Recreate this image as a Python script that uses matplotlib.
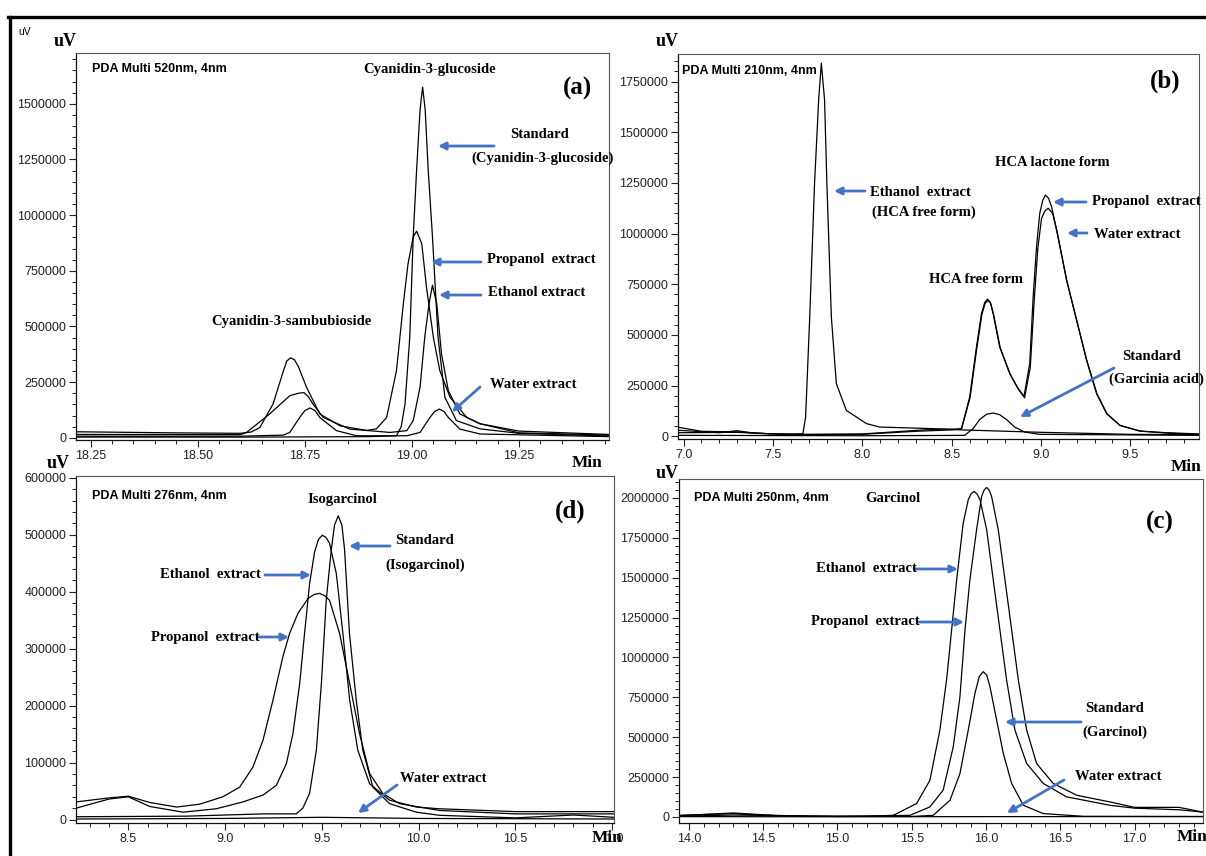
import numpy as np
import matplotlib.pyplot as plt
from matplotlib.ticker import MultipleLocator, FuncFormatter
from matplotlib.lines import Line2D

# ---- chromatogram traces (time in min, signal in thousands of uV) ----

# (a) PDA 520 nm
a_std_t = [18.215, 18.60, 18.90, 18.964, 18.975, 18.984, 18.995, 19.003, 19.011, 19.019, 19.025,
           19.031, 19.038, 19.048, 19.061, 19.077, 19.104, 19.159, 19.25, 19.46]
a_std_v = [3, 3, 5, 9, 50, 152, 452, 902, 1203, 1473, 1575, 1473, 1203, 902, 452, 182, 77, 40, 20, 8]
a_pro_t = [18.215, 18.45, 18.60, 18.625, 18.645, 18.676, 18.700, 18.708, 18.717, 18.726, 18.735,
           18.754, 18.785, 18.832, 18.894, 18.917, 18.941, 18.964, 18.980, 18.991, 19.003, 19.011,
           19.023, 19.034, 19.050, 19.065, 19.089, 19.128, 19.159, 19.25, 19.46]
a_pro_v = [27, 22, 20, 26, 46, 152, 300, 345, 359, 350, 320, 227, 107, 54, 33, 40, 91, 302, 602,
           782, 902, 928, 872, 677, 452, 302, 182, 91, 63, 30, 15]
a_eth_t = [18.215, 18.60, 18.614, 18.668, 18.715, 18.735, 18.748, 18.758, 18.769, 18.793, 18.855,
           18.949, 18.988, 19.003, 19.019, 19.030, 19.040, 19.048, 19.058, 19.069, 19.085, 19.112,
           19.159, 19.25, 19.46]
a_eth_v = [15, 14, 24, 107, 189, 200, 203, 185, 152, 91, 39, 24, 32, 77, 227, 452, 602, 685, 602,
           377, 212, 107, 63, 22, 12]
a_wat_t = [18.215, 18.60, 18.70, 18.715, 18.738, 18.750, 18.762, 18.774, 18.785, 18.824, 18.871,
           18.988, 19.019, 19.042, 19.053, 19.064, 19.075, 19.085, 19.112, 19.159, 19.46]
a_wat_v = [7, 7, 12, 24, 91, 122, 134, 122, 91, 32, 9, 9, 24, 91, 118, 129, 118, 91, 39, 17, 5]

# (b) PDA 210 nm
b_eth_t = [6.969, 7.1, 7.3, 7.5, 7.62, 7.668, 7.683, 7.706, 7.733, 7.756, 7.771, 7.789, 7.802,
           7.827, 7.855, 7.911, 8.023, 8.097, 8.40, 8.55, 9.0, 9.5, 9.884]
b_eth_v = [45, 25, 22, 12, 12, 13, 95, 589, 1248, 1660, 1841, 1660, 1248, 589, 260, 128, 63, 46,
           38, 32, 20, 10, 8]
b_pro_t = [6.969, 7.2, 7.3, 7.4, 7.6, 8.0, 8.3, 8.5, 8.555, 8.601, 8.639, 8.667, 8.685, 8.700,
           8.716, 8.732, 8.769, 8.825, 8.872, 8.905, 8.937, 8.956, 8.975, 8.993, 9.010, 9.025,
           9.042, 9.059, 9.087, 9.143, 9.199, 9.255, 9.311, 9.367, 9.441, 9.553, 9.703, 9.884]
b_pro_v = [30, 18, 28, 15, 10, 10, 25, 32, 38, 194, 441, 606, 660, 677, 662, 606, 441, 310, 236,
           198, 359, 688, 935, 1100, 1165, 1190, 1175, 1133, 1018, 771, 573, 375, 211, 112, 54,
           26, 18, 12]
b_wat_t = [6.969, 7.3, 7.6, 8.0, 8.4, 8.555, 8.603, 8.641, 8.669, 8.687, 8.703, 8.719, 8.735,
           8.772, 8.828, 8.875, 8.908, 8.940, 8.962, 8.982, 9.003, 9.022, 9.040, 9.065, 9.090,
           9.145, 9.201, 9.257, 9.313, 9.369, 9.443, 9.555, 9.703, 9.884]
b_wat_v = [18, 20, 8, 12, 35, 36, 190, 436, 600, 655, 670, 655, 600, 436, 305, 230, 190, 340, 670,
           925, 1075, 1112, 1125, 1100, 1010, 765, 568, 372, 210, 112, 54, 26, 16, 10]
b_std_t = [6.969, 8.0, 8.573, 8.620, 8.657, 8.695, 8.732, 8.769, 8.807, 8.853, 8.909, 8.993, 9.884]
b_std_v = [5, 3, 5, 38, 83, 109, 115, 107, 83, 46, 21, 10, 5]

# (d) PDA 276 nm
d_std_t = [8.230, 8.8, 9.196, 9.368, 9.402, 9.437, 9.472, 9.498, 9.523, 9.549, 9.566, 9.585,
           9.604, 9.618, 9.643, 9.678, 9.712, 9.764, 9.850, 9.988, 10.108, 10.5, 10.8, 11.01]
d_std_v = [5, 6, 10, 10, 20, 46, 122, 239, 385, 473, 517, 533, 517, 473, 327, 210, 122, 57, 28,
           13, 7.5, 3, 8, 4]
d_eth_t = [8.230, 8.40, 8.50, 8.611, 8.783, 8.955, 9.093, 9.196, 9.265, 9.317, 9.351, 9.386,
           9.411, 9.437, 9.463, 9.483, 9.503, 9.522, 9.540, 9.575, 9.609, 9.644, 9.686, 9.747,
           9.850, 9.988, 10.108, 10.5, 11.01]
d_eth_v = [20, 36, 40, 23, 13, 19, 31, 43, 60, 98, 151, 239, 327, 414, 470, 492, 499, 495, 485,
           432, 327, 210, 122, 63, 34, 22, 19, 14, 14]
d_pro_t = [8.230, 8.40, 8.50, 8.611, 8.75, 8.869, 8.989, 9.076, 9.144, 9.196, 9.248, 9.299,
           9.334, 9.377, 9.429, 9.460, 9.489, 9.515, 9.540, 9.592, 9.644, 9.695, 9.747, 9.815,
           9.901, 10.108, 10.5, 11.01]
d_pro_v = [31, 38, 41, 30, 22, 27, 40, 57, 92, 139, 210, 286, 327, 362, 388, 395, 397, 393, 385,
           327, 239, 151, 81, 46, 28, 16, 10, 10]
d_wat_t = [8.230, 9.0, 9.5, 10.0, 11.01]
d_wat_v = [1, 2, 4, 2, 1]

# (c) PDA 250 nm
c_eth_t = [13.934, 14.1, 14.3, 14.5, 14.8, 15.2, 15.376, 15.533, 15.623, 15.690, 15.735, 15.769,
           15.803, 15.847, 15.881, 15.900, 15.919, 15.940, 15.960, 16.005, 16.049, 16.094, 16.139,
           16.195, 16.274, 16.386, 16.543, 16.835, 17.0, 17.3, 17.461]
c_eth_v = [10, 15, 20, 12, 5, 5, 10, 84, 230, 545, 859, 1173, 1487, 1843, 1989, 2025, 2041, 2025,
           1989, 1801, 1487, 1173, 859, 545, 335, 210, 126, 73, 55, 45, 30]
c_pro_t = [13.934, 14.3, 14.6, 15.0, 15.488, 15.623, 15.712, 15.780, 15.825, 15.859, 15.892,
           15.937, 15.971, 15.988, 16.005, 16.021, 16.038, 16.083, 16.128, 16.173, 16.218, 16.274,
           16.341, 16.453, 16.611, 16.835, 17.0, 17.3, 17.461]
c_pro_v = [8, 25, 8, 3, 10, 63, 168, 440, 754, 1173, 1487, 1801, 2010, 2050, 2066, 2050, 2010,
           1801, 1487, 1173, 859, 545, 335, 210, 136, 94, 60, 60, 30]
c_std_t = [13.934, 14.3, 15.0, 15.5, 15.645, 15.758, 15.825, 15.881, 15.926, 15.955, 15.982,
           16.005, 16.027, 16.072, 16.117, 16.173, 16.252, 16.386, 16.655, 17.461]
c_std_v = [5, 12, 3, 3, 10, 105, 272, 545, 775, 880, 911, 890, 817, 607, 398, 210, 73, 21, 4, 3]
c_wat_t = [13.934, 15.0, 16.0, 17.461]
c_wat_v = [2, 1, 2, 2]

W, H = 1206, 856
BLUE = '#4472C4'
SERIF = ['Liberation Serif', 'DejaVu Serif']
NARROW = ['Liberation Sans Narrow', 'Liberation Sans', 'DejaVu Sans']

fig = plt.figure(figsize=(W / 100, H / 100), dpi=100)


def frac(px, py):
    return px / W, 1 - py / H


def panel(l, t, r, b, xlim, ylim, xstep, xminor, ystep, yminor, xfmt, traces):
    ax = fig.add_axes([l / W, 1 - b / H, (r - l) / W, (b - t) / H])
    for tt, vv in traces:
        ax.plot(tt, np.array(vv) * 1000, color='black', lw=0.9)
    ax.set_xlim(*xlim)
    ax.set_ylim(*ylim)
    ax.xaxis.set_major_locator(MultipleLocator(xstep))
    ax.xaxis.set_minor_locator(MultipleLocator(xminor))
    ax.yaxis.set_major_locator(MultipleLocator(ystep))
    ax.yaxis.set_minor_locator(MultipleLocator(yminor))
    ax.xaxis.set_major_formatter(FuncFormatter(lambda v, p: xfmt % v))
    ax.yaxis.set_major_formatter(FuncFormatter(lambda v, p: '%d' % round(v)))
    ax.tick_params(which='major', direction='out', length=5, width=0.8, labelsize=9,
                   colors='#222222', pad=2)
    ax.tick_params(which='minor', direction='out', length=3, width=0.7, colors='#222222')
    for lab in ax.get_xticklabels() + ax.get_yticklabels():
        lab.set_family(['Liberation Sans', 'DejaVu Sans'])
    for side in ('top', 'right'):
        ax.spines[side].set_color('#555555')
        ax.spines[side].set_linewidth(0.8)
    for side in ('left', 'bottom'):
        ax.spines[side].set_color('#111111')
        ax.spines[side].set_linewidth(0.9)
    return ax


def text(px, py, s, size=10.5, ha='left', family=SERIF, weight='bold'):
    fig.text(*frac(px, py), s, fontsize=size, ha=ha, va='center', family=family,
             weight=weight, color='black')


def arrow(x0, y0, x1, y1):
    fig.add_artist(plt.Annotation('', xy=frac(x1, y1), xytext=frac(x0, y0),
                                  xycoords='figure fraction', textcoords='figure fraction',
                                  arrowprops=dict(arrowstyle='-|>', color=BLUE, lw=2.0,
                                                  mutation_scale=11, shrinkA=0, shrinkB=0)))


# panel (a)
panel(76, 53, 609, 440, (18.216, 19.460), (-10000, 1728000), 0.25, 0.05, 250000, 50000, '%.2f',
      [(a_std_t, a_std_v), (a_pro_t, a_pro_v), (a_eth_t, a_eth_v), (a_wat_t, a_wat_v)])
# panel (b)
panel(678, 54, 1199, 439, (6.969, 9.884), (-13000, 1886000), 0.5, 0.1, 250000, 50000, '%.1f',
      [(b_eth_t, b_eth_v), (b_pro_t, b_pro_v), (b_wat_t, b_wat_v), (b_std_t, b_std_v)])
# panel (d)
panel(76, 476, 614, 823, (8.230, 11.010), (-6000, 603000), 0.5, 0.1, 100000, 20000, '%.1f',
      [(d_std_t, d_std_v), (d_eth_t, d_eth_v), (d_pro_t, d_pro_v), (d_wat_t, d_wat_v)])
# panel (c)
panel(679, 479, 1203, 823, (13.934, 17.461), (-38000, 2119000), 0.5, 0.1, 250000, 50000, '%.1f',
      [(c_eth_t, c_eth_v), (c_pro_t, c_pro_v), (c_std_t, c_std_v), (c_wat_t, c_wat_v)])

# outer frame (top and left edges)
fig.add_artist(Line2D([8 / W, 1], [1 - 17 / H, 1 - 17 / H], transform=fig.transFigure,
                      color='black', lw=2.4))
fig.add_artist(Line2D([10 / W, 10 / W], [0, 1 - 17 / H], transform=fig.transFigure,
                      color='black', lw=2.4))
text(18, 32, 'uV', size=7.5, family=['Liberation Sans', 'DejaVu Sans'], weight='normal')

# axis units
for px, py in [(65, 42), (667, 42), (58, 463), (667, 473)]:
    text(px, py, 'uV', size=13, ha='center')
for px, py in [(587, 463), (1186, 467), (607, 838), (1192, 837)]:
    text(px, py, 'Min', size=12.5, ha='center')

# panel (a) labels
text(92, 69, 'PDA Multi 520nm, 4nm', size=9, family=NARROW)
text(430, 69, 'Cyanidin-3-glucoside', ha='center')
text(578, 88, '(a)', size=18, ha='center')
text(540, 135, 'Standard', ha='center')
text(543, 158, '(Cyanidin-3-glucoside)', ha='center')
arrow(494, 146, 438, 146)
text(487, 260, 'Propanol  extract')
arrow(481, 262, 431, 262)
text(488, 293, 'Ethanol extract')
arrow(481, 295, 439, 295)
text(490, 384, 'Water extract')
arrow(480, 387, 452, 412)
text(291, 322, 'Cyanidin-3-sambubioside', ha='center')

# panel (b) labels
text(682, 71, 'PDA Multi 210nm, 4nm', size=9, family=NARROW)
text(1165, 81, '(b)', size=18, ha='center')
text(870, 192, 'Ethanol  extract')
text(872, 212, '(HCA free form)')
arrow(865, 191, 834, 191)
text(1052, 162, 'HCA lactone form', ha='center')
text(1092, 202, 'Propanol  extract')
arrow(1086, 202, 1053, 202)
text(1094, 234, 'Water extract')
arrow(1087, 233, 1067, 233)
text(976, 280, 'HCA free form', ha='center')
text(1152, 356, 'Standard', ha='center')
text(1156, 379, '(Garcinia acid)', ha='center')
arrow(1114, 368, 1020, 417)

# panel (d) labels
text(92, 496, 'PDA Multi 276nm, 4nm', size=9, family=NARROW)
text(342, 500, 'Isogarcinol', ha='center')
text(570, 511, '(d)', size=18, ha='center')
text(425, 541, 'Standard', ha='center')
text(425, 565, '(Isogarcinol)', ha='center')
arrow(390, 546, 349, 546)
text(160, 575, 'Ethanol  extract')
arrow(265, 575, 311, 575)
text(151, 637, 'Propanol  extract')
arrow(258, 637, 289, 637)
text(400, 778, 'Water extract')
arrow(397, 785, 358, 813)

# panel (c) labels
text(694, 498, 'PDA Multi 250nm, 4nm', size=9, family=NARROW)
text(893, 498, 'Garcinol', ha='center')
text(1160, 522, '(c)', size=18, ha='center')
text(816, 569, 'Ethanol  extract')
arrow(914, 569, 958, 569)
text(811, 622, 'Propanol  extract')
arrow(918, 622, 964, 622)
text(1115, 708, 'Standard', ha='center')
text(1115, 732, '(Garcinol)', ha='center')
arrow(1081, 722, 1005, 722)
text(1075, 777, 'Water extract')
arrow(1064, 780, 1007, 813)

fig.savefig('out.png', dpi=100)
